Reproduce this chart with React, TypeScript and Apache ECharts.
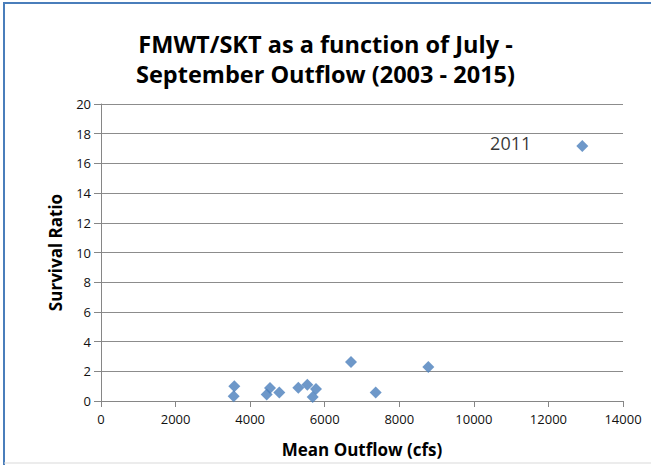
import React, { useEffect, useRef } from "react";
import * as echarts from "echarts";

const years = ["2003", "2004", "2005", "2006", "2007", "2008", "2009", "2010", "2011", "2012", "2013", "2014", "2015"];
const outflow = [3575, 3558, 4532, 4443, 4782, 5292, 5533, 5766, 5677, 6705, 7367, 8778, 12908];
const survival = [1.0, 0.32, 0.88, 0.43, 0.57, 0.9, 1.1, 0.81, 0.27, 2.63, 0.57, 2.29, 17.17];
const labelledPoint = 12;
const labelText = "2011";
const titleLines = ["FMWT/SKT as a function of July -", "September Outflow (2003 - 2015)"];
const xName = "Mean Outflow (cfs)";
const yName = "Survival Ratio";

const FONT = "'Open Sans', sans-serif";

export default function App() {
  const ref = useRef<HTMLDivElement>(null);
  useEffect(() => {
    document.body.style.margin = "0";
    if (!ref.current) return;
    const chart = echarts.init(ref.current, null, { renderer: "svg" });
    const data = outflow.map((x, i) => {
      const item: any = { value: [x, survival[i]], name: years[i] };
      if (i === labelledPoint) {
        item.label = {
          show: true,
          formatter: labelText,
          position: "left",
          distance: 45,
          offset: [0, -3],
          fontSize: 18,
          fontFamily: FONT,
          color: "#000",
        };
      }
      return item;
    });
    chart.setOption({
      animation: false,
      backgroundColor: "#fff",
      textStyle: { fontFamily: FONT },
      title: {
        text: titleLines.join("\n"),
        left: "center",
        top: 24,
        textStyle: {
          fontFamily: FONT,
          fontSize: 23.5,
          fontWeight: "bold",
          color: "#000",
          lineHeight: 30,
        },
      },
      grid: { left: 101, right: 28, top: 104, bottom: 64 },
      xAxis: {
        type: "value",
        min: 0,
        max: 14000,
        interval: 2000,
        name: xName,
        nameLocation: "middle",
        nameGap: 40,
        nameTextStyle: { fontFamily: FONT, fontSize: 17, fontWeight: "bold", color: "#000" },
        axisLine: { show: true, lineStyle: { color: "#868686" } },
        axisTick: { show: true, inside: false, length: 6, lineStyle: { color: "#868686" } },
        axisLabel: { fontFamily: FONT, fontSize: 13, color: "#111", margin: 11, formatter: (v: number) => String(v) },
        splitLine: { show: false },
      },
      yAxis: {
        type: "value",
        min: 0,
        max: 20,
        interval: 2,
        name: yName,
        nameLocation: "middle",
        nameGap: 37,
        nameTextStyle: { fontFamily: FONT, fontSize: 17, fontWeight: "bold", color: "#000" },
        axisLine: { show: true, lineStyle: { color: "#868686" } },
        axisTick: { show: true, inside: false, length: 7, lineStyle: { color: "#868686" } },
        axisLabel: { fontFamily: FONT, fontSize: 13, color: "#111", margin: 10 },
        splitLine: { show: true, lineStyle: { color: "#8c8c8c", width: 1 } },
      },
      graphic: [
        { type: "line", shape: { x1: 4, y1: 3, x2: 4, y2: 465 }, style: { stroke: "#4a7ebb", lineWidth: 2 } },
        { type: "line", shape: { x1: 3, y1: 3, x2: 651, y2: 3 }, style: { stroke: "#4a7ebb", lineWidth: 2 } },
        { type: "line", shape: { x1: 4, y1: 463, x2: 651, y2: 463 }, style: { stroke: "#d9d9d9", lineWidth: 1 } },
      ],
      series: [
        {
          type: "scatter",
          symbol: "diamond",
          symbolSize: 12,
          itemStyle: { color: "#4a7ebb" },
          data,
        },
      ],
    });
    return () => chart.dispose();
  }, []);
  return <div ref={ref} style={{ width: 651, height: 465 }} />;
}
